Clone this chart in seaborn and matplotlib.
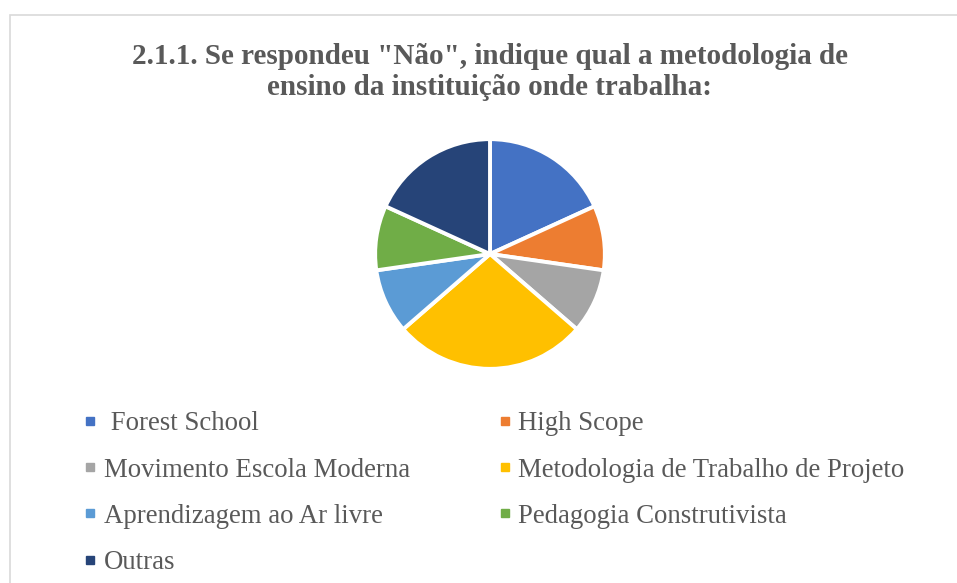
import matplotlib.pyplot as plt
import seaborn as sns
from matplotlib.lines import Line2D
from matplotlib.patches import Rectangle

# values (counts of answers)
labels = [' Forest School', 'High Scope', 'Movimento Escola Moderna',
          'Metodologia de Trabalho de Projeto', 'Aprendizagem ao Ar livre',
          'Pedagogia Construtivista', 'Outras']
counts = [2, 1, 1, 3, 1, 1, 2]
colors = ['#4472C4', '#ED7D31', '#A5A5A5', '#FFC000', '#5B9BD5', '#70AD47', '#264478']
title = '2.1.1. Se respondeu "Não", indique qual a metodologia de\nensino da instituição onde trabalha:'

sns.set_theme(style='white')
plt.rcParams['font.family'] = ['Liberation Serif', 'DejaVu Serif']

fig = plt.figure(figsize=(9.57, 5.83), dpi=100)
W, H = 957, 583

# chart frame (only left/top visible in the crop)
fig.patches.append(Rectangle((10 / W, -0.1), 1.2, 1 - 15 / H + 0.1,
                             transform=fig.transFigure, fill=False,
                             edgecolor='#D9D9D9', linewidth=1.2))

fig.text(490 / W, 1 - 72 / H, title, ha='center', va='center',
         fontsize=21, fontweight='bold', color='#595959', linespacing=1.2)

r = 116
ax = fig.add_axes([(490 - r) / W, 1 - (254 + r) / H, 2 * r / W, 2 * r / H])
pal = sns.color_palette(colors)
ax.pie(counts, colors=pal, startangle=90, counterclock=False,
       wedgeprops=dict(edgecolor='white', linewidth=2.8))
ax.set_xlim(-1.01, 1.01)
ax.set_ylim(-1.01, 1.01)
ax.set_aspect('equal')
ax.axis('off')

handles = [Line2D([], [], marker='s', linestyle='none', markersize=6.3,
                  markerfacecolor=c, markeredgecolor=c) for c in colors]
# column-first ordering so the legend reads row by row
order = [0, 2, 4, 6, 1, 3, 5]
fig.legend([handles[i] for i in order], [labels[i] for i in order],
           loc='upper left', bbox_to_anchor=(69 / W, 1 - 398 / H), ncol=2,
           frameon=False, fontsize=19.3, labelcolor='#595959',
           handlelength=0.6, handletextpad=0.2, columnspacing=3.23,
           labelspacing=0.79, borderpad=0)

fig.savefig('out.png', dpi=100)
